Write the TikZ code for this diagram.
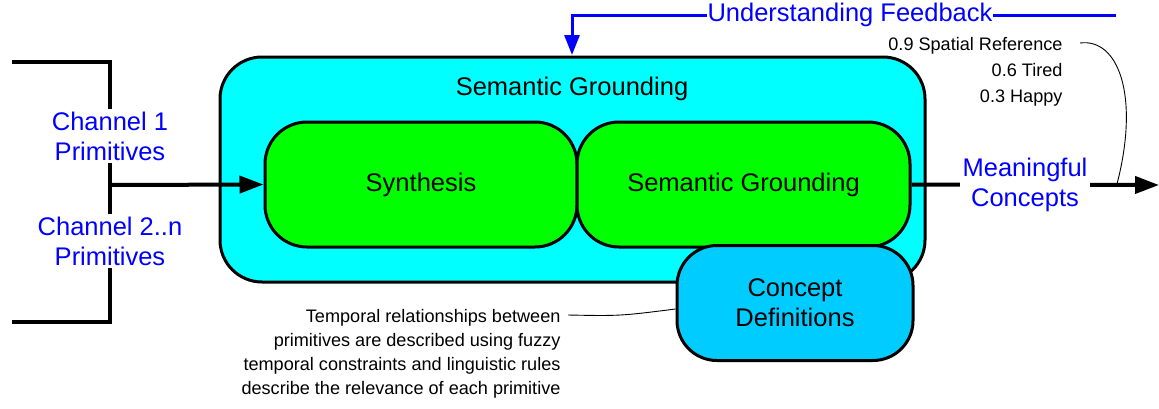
\documentclass[tikz,border=0pt]{standalone}
\usepackage{fontspec}
\setmainfont{Liberation Sans}
\usetikzlibrary{arrows.meta}
\definecolor{outercyan}{HTML}{00FFFF}
\definecolor{stagegreen}{HTML}{00FF00}
\definecolor{conceptblue}{HTML}{00CCFF}
\definecolor{labelblue}{HTML}{0000FF}
\begin{document}
\begin{tikzpicture}[x=1pt,y=-1pt,
  bigtext/.style={font=\fontsize{25.5}{30}\selectfont},
  smalltext/.style={font=\fontsize{18.1}{26}\selectfont},
  roundbox/.style={draw=black,line width=3pt,rounded corners=42pt,bigtext,align=center},
  flowlabel/.style={bigtext,text=labelblue,fill=white,align=center,inner sep=3pt},
  flowline/.style={line width=4pt,-{Triangle[length=24pt,width=17pt]}},
  callout/.style={line width=0.9pt}
]
\useasboundingbox (0,0) rectangle (1159,408);

% outer grounding stage
\node[roundbox,fill=outercyan,minimum width=705pt,minimum height=225pt] (outer) at (572.5,169.5) {};
\node[bigtext] (outerlabel) at (572,89) {Semantic Grounding};

% inner stages
\node[roundbox,fill=stagegreen,minimum width=312pt,minimum height=125pt] (synth) at (421,184.5) {Synthesis};
\node[roundbox,fill=stagegreen,minimum width=333pt,minimum height=125pt] (ground) at (743.5,184.5) {Semantic Grounding};

% concept definitions
\node[roundbox,fill=conceptblue,minimum width=236pt,minimum height=115pt,rounded corners=40pt] (concepts) at (795,303) {Concept\\Definitions};

% input bracket
\coordinate (btl) at (12,62);
\coordinate (btr) at (110,62);
\coordinate (bbr) at (110,322);
\coordinate (bbl) at (12,322);
\coordinate (bmid) at (110,185);
\draw[line width=4pt] (btl) -- (btr) -- (bbr) -- (bbl);
\node[flowlabel] (ch1) at (110,136) {Channel 1\\Primitives};
\node[flowlabel] (ch2) at (110,241) {Channel 2..n\\Primitives};
\draw[flowline] (bmid) -- (synth.west);

% output
\coordinate (outend) at (1159,185);
\draw[flowline] (ground.east) -- (outend);
\node[flowlabel] (meaning) at (1025,185) {Meaningful\\Concepts};

% feedback loop
\coordinate (fbstart) at (1116,15);
\coordinate (fbcorner) at (572,15);
\coordinate (fbend) at (572,55);
\draw[labelblue,line width=3pt,-{Triangle[length=20pt,width=15pt]}] (fbstart) -- (fbcorner) -- (fbend);
\node[flowlabel,inner sep=1pt] (feedback) at (850,15) {Understanding Feedback};

% example outputs and callout
\node[smalltext,anchor=east,align=right] (examples) at (1066,72) {0.9 Spatial Reference\\0.6 Tired\\0.3 Happy};
\coordinate (exhook) at (1080,43);
\coordinate (exfoot) at (1117,184);
\draw[callout] (exhook) .. controls (1118,38) and (1140,95) .. (exfoot);

% temporal note and callout
\node[smalltext,anchor=east,align=right,font=\fontsize{18.1}{24}\selectfont] (note) at (564,354) {Temporal relationships between\\primitives are described using fuzzy\\temporal constraints and linguistic rules\\describe the relevance of each primitive};
\coordinate (notehook) at (568,315);
\draw[callout] (notehook) .. controls (620,316) .. (concepts.west |- 0,309);
\end{tikzpicture}
\end{document}
